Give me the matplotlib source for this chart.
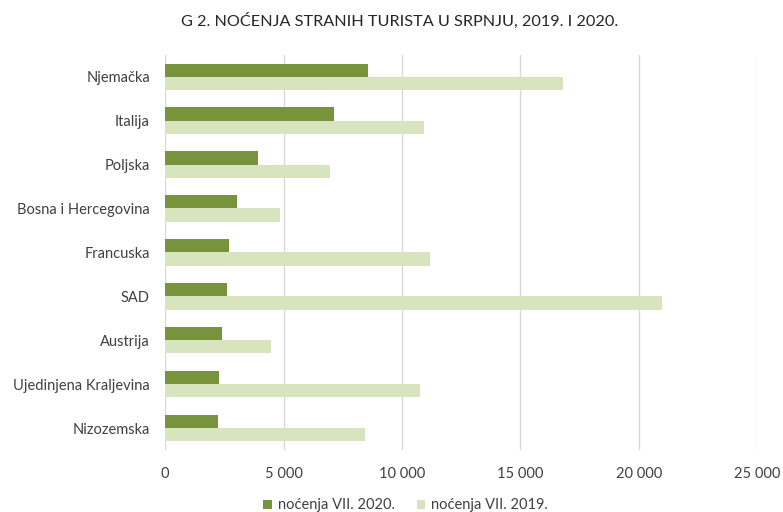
import numpy as np
import matplotlib.pyplot as plt
from matplotlib.ticker import FuncFormatter

plt.rcParams['font.family'] = ['Lato', 'DejaVu Sans']

countries = ['Njemačka', 'Italija', 'Poljska', 'Bosna i Hercegovina', 'Francuska',
             'SAD', 'Austrija', 'Ujedinjena Kraljevina', 'Nizozemska']
nocenja_2020 = [8560, 7140, 3920, 3040, 2700, 2620, 2390, 2280, 2240]
nocenja_2019 = [16820, 10910, 6970, 4860, 11190, 21000, 4480, 10740, 8420]

fig = plt.figure(figsize=(7.83, 5.12), dpi=100)
ax = fig.add_axes([0.211, 0.121, 0.756, 0.772])

y = np.arange(len(countries))
h = 0.3
ax.barh(y - h / 2, nocenja_2020, height=h, color='#77933C', label='noćenja VII. 2020.', zorder=3)
ax.barh(y + h / 2, nocenja_2019, height=h, color='#D7E4BD', label='noćenja VII. 2019.', zorder=3)

ax.set_ylim(len(countries) - 0.5, -0.5)
ax.set_yticks(y)
ax.set_yticklabels(countries, fontsize=10.5, color='#404040')
ax.set_xlim(0, 25000)
ax.set_xticks(range(0, 25001, 5000))
ax.xaxis.set_major_formatter(FuncFormatter(lambda v, p: f'{int(v):,}'.replace(',', ' ')))
ax.tick_params(axis='x', labelsize=10.5, colors='#404040', length=0, pad=12)
ax.tick_params(axis='y', length=0, pad=11)
ax.grid(axis='x', color='#D9D9D9', linewidth=1, zorder=0)
for s in ax.spines.values():
    s.set_visible(False)

fig.text(0.51, 0.96, 'G 2. NOĆENJA STRANIH TURISTA U SRPNJU, 2019. I 2020.',
         ha='center', va='center', fontsize=11.7, color='#262626')
fig.legend(loc='center', bbox_to_anchor=(0.518, 0.013), ncol=2, frameon=False,
           fontsize=10.5, handlelength=0.6, handleheight=0.6, columnspacing=1.5,
           handletextpad=0.4, labelcolor='#404040')

fig.savefig('out.png', dpi=100)
